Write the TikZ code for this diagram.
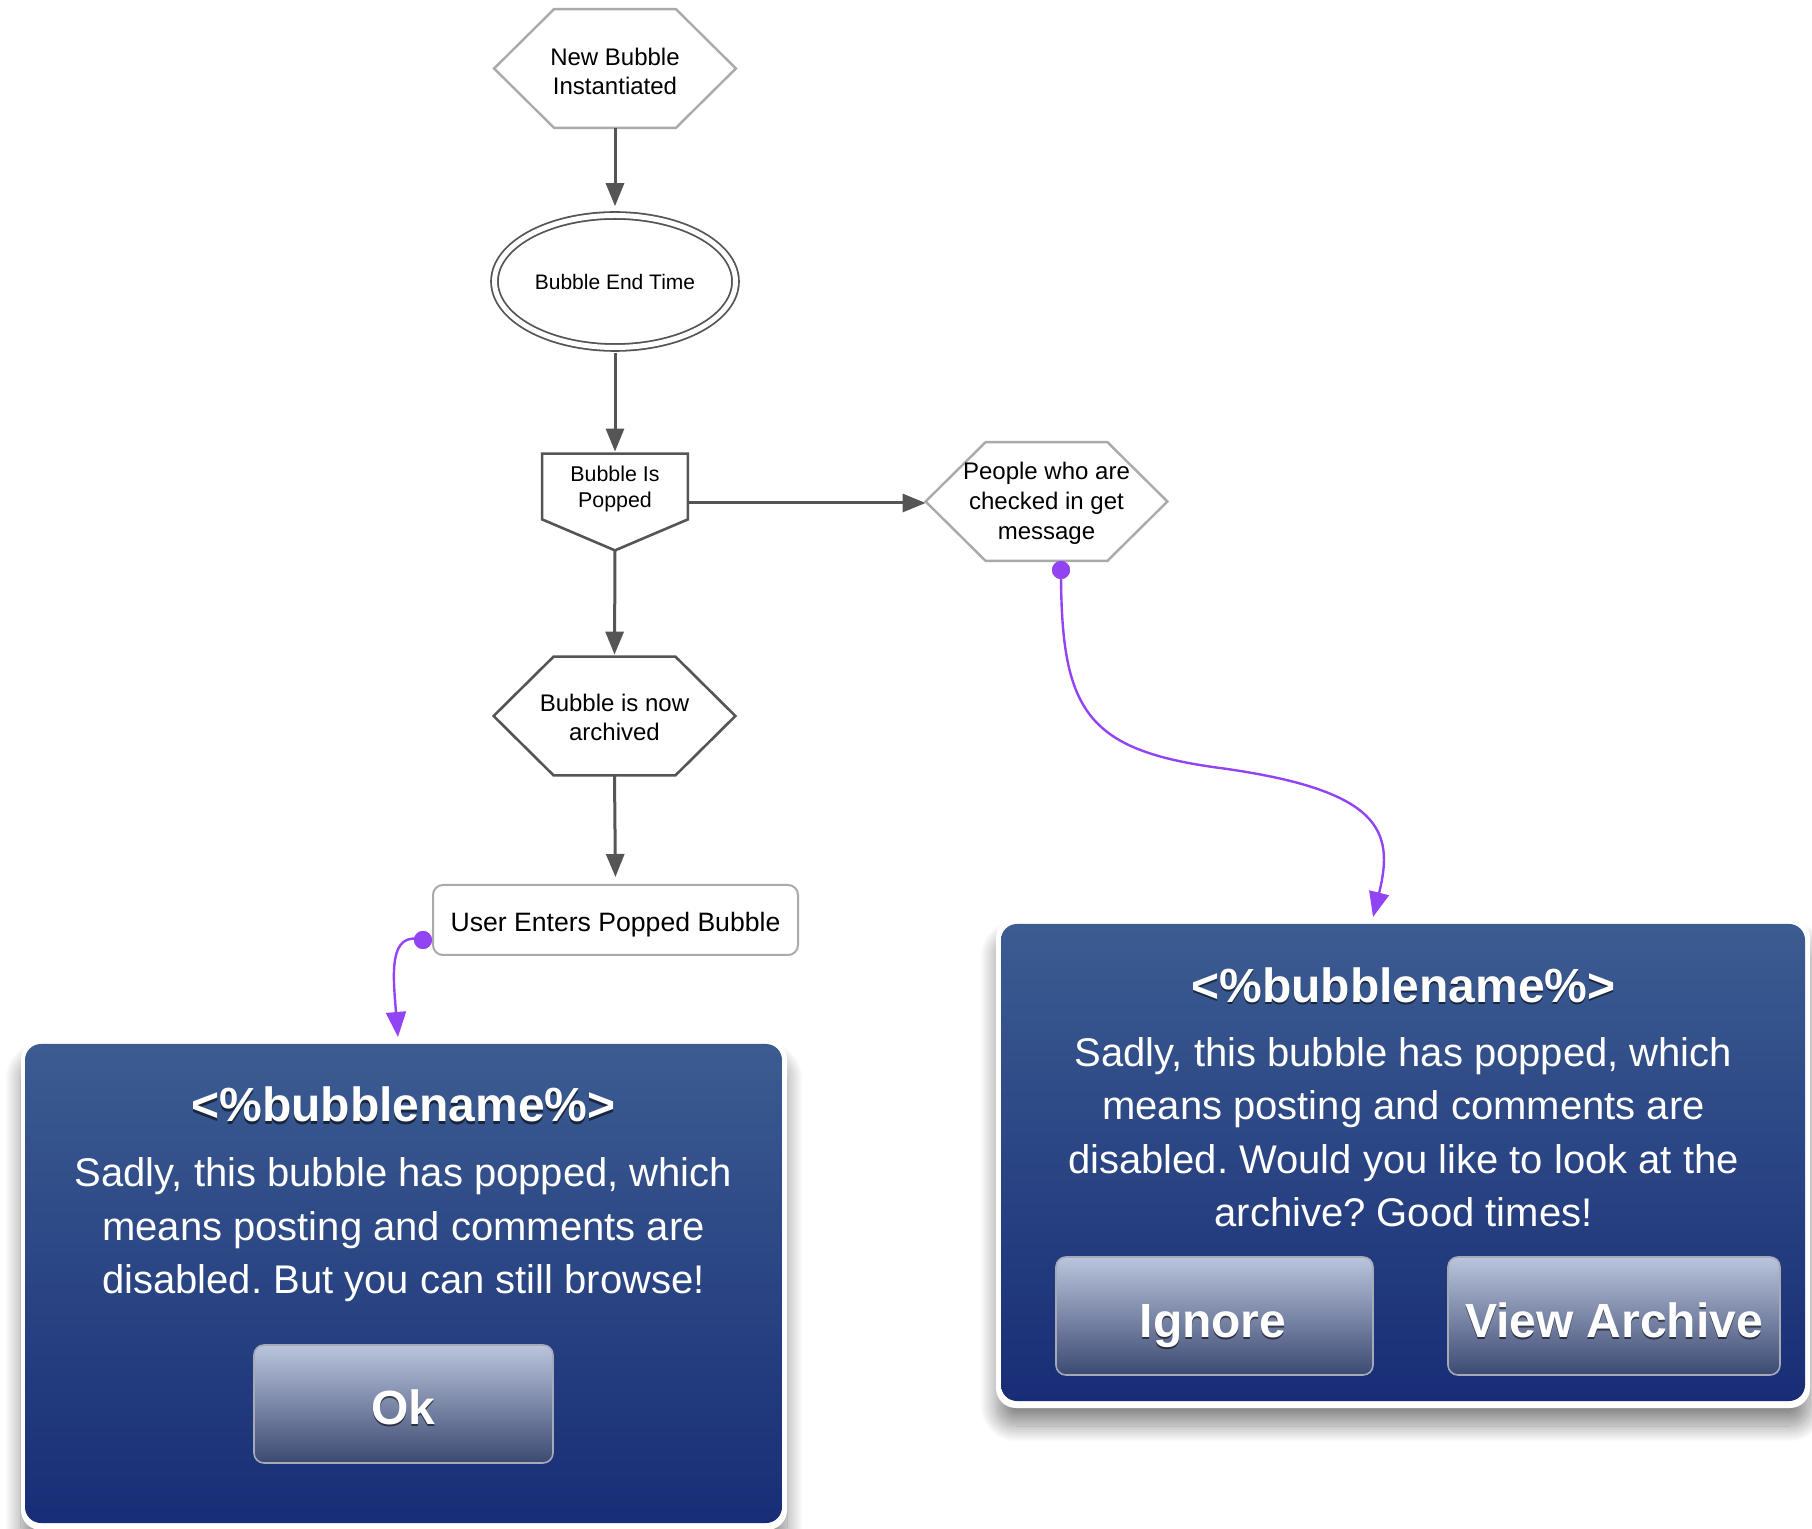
\documentclass[tikz,border=0pt]{standalone}
\usepackage{fontspec}
\setmainfont{Liberation Sans}
\frenchspacing
\usetikzlibrary{arrows.meta,shapes.geometric,shadows.blur,calc}
\definecolor{edgegray}{RGB}{85,85,85}
\definecolor{lightedge}{RGB}{170,170,170}
\definecolor{purp}{RGB}{146,68,245}
\definecolor{bluetop}{RGB}{60,92,145}
\definecolor{bluebot}{RGB}{24,45,118}
\definecolor{btntop}{RGB}{186,196,220}
\definecolor{btnbot}{RGB}{60,74,114}
\definecolor{btnedge}{RGB}{165,170,185}
\newcommand\drawhex[2]{\draw[#2] (#1.west) -- ([xshift=30pt]#1.north west) -- ([xshift=-30pt]#1.north east) -- (#1.east) -- ([xshift=-30pt]#1.south east) -- ([xshift=30pt]#1.south west) -- cycle;}
\begin{document}
\begin{tikzpicture}[x=0.5pt,y=-0.5pt]
\useasboundingbox (0,0) rectangle (1812,1529);
\tikzset{
 flowarrow/.style={draw=edgegray, line width=1.5pt, -{Triangle[length=11.5pt,width=9pt]}},
 purparrow/.style={draw=purp, line width=1.2pt, -{Triangle[length=12.5pt,width=10pt]}},
 hexlight/.style={draw=lightedge, line width=1.2pt},
 hexdark/.style={draw=edgegray, line width=1.3pt},
 hexbox/.style={inner sep=0pt, minimum width=120.5pt, minimum height=59pt},
 flowtext/.style={align=center, inner sep=0pt, font=\fontsize{12}{14.5}\selectfont},
 dotnode/.style={circle, fill=purp, inner sep=0pt, minimum size=9pt},
 dlgframe/.style={fill=white, rounded corners=10pt, inner sep=0pt, blur shadow={shadow xshift=0pt, shadow yshift=-9pt, shadow blur radius=8pt, shadow blur steps=20, shadow opacity=45}},
 dlgpanel/.style={rounded corners=8pt, inner sep=0pt, top color=bluetop, bottom color=bluebot},
 btn/.style={draw=btnedge, line width=0.8pt, rounded corners=5pt, inner sep=0pt, top color=btntop, bottom color=btnbot},
 titletext/.style={font=\bfseries\fontsize{24}{28}\selectfont, text=white, anchor=base},
 titleshadow/.style={font=\bfseries\fontsize{24}{28}\selectfont, text=black, text opacity=0.55, anchor=base},
 bodytext/.style={font=\fontsize{20}{26.75}\selectfont, text=white, align=center},
}
% ---------- flow nodes ----------
\node[hexbox] (new) at (615,68.5) {};
\drawhex{new}{hexlight}
\node[flowtext] (newT) at (615,71) {New Bubble\\Instantiated};
\node[ellipse, draw=edgegray, double=white, double distance=2.5pt, line width=0.9pt,
      inner sep=0pt, minimum width=120.5pt, minimum height=66pt] (end) at (615,281.5) {};
\node[inner sep=0pt, font=\fontsize{10.5}{13}\selectfont] (endT) at (615,282.5) {Bubble End Time};
\node[inner sep=0pt, minimum width=72.5pt, minimum height=32.5pt] (pop) at (615,486.5) {};
\coordinate (popTip) at ([yshift=-15.5pt]pop.south);
\draw[hexdark] (pop.north west) -- (pop.north east) -- (pop.south east) -- (popTip) -- (pop.south west) -- cycle;
\node[flowtext, font=\fontsize{10.7}{13}\selectfont] (popT) at (615,489) {Bubble Is\\Popped};
\node[hexbox, minimum height=59pt] (peo) at (1046.5,501.5) {};
\drawhex{peo}{hexlight}
\node[flowtext, font=\fontsize{12}{15}\selectfont] (peoT) at (1046.5,503.5) {People who are\\checked in get\\message};
\node[hexbox] (arch) at (614.5,716) {};
\drawhex{arch}{hexdark}
\node[flowtext] (archT) at (614.5,717.5) {Bubble is now\\archived};
\node[draw=lightedge, line width=1pt, rounded corners=5pt, inner sep=0pt,
      minimum width=182.5pt, minimum height=35pt] (user) at (615.5,920) {};
\node[inner sep=0pt, font=\fontsize{13.3}{16}\selectfont] (userT) at (615.5,924.5) {User Enters Popped Bubble};
% ---------- flow arrows ----------
\coordinate (hArrow) at (pop.east |- 0,503);
\draw[flowarrow, shorten >=4.2pt] (new.south) -- (end.north);
\draw[flowarrow, shorten <=2.3pt, shorten >=1pt] (end.south) -- (pop.north);
\draw[flowarrow, shorten >=1pt] (popTip) -- (arch.north);
\draw[flowarrow, shorten >=3.5pt] (arch.south) -- (user.north);
\draw[flowarrow] (hArrow) -- (hArrow -| peo.west);
% ---------- dialogs ----------
\node[dlgframe, minimum width=383pt, minimum height=245pt] (frameL) at (404,1285) {};
\node[dlgpanel, minimum width=378.5pt, minimum height=239.5pt] (panelL) at (403.5,1283.5) {};
\node[dlgframe, minimum width=407pt, minimum height=245pt] (frameR) at (1403,1163) {};
\node[dlgpanel, minimum width=402pt, minimum height=238.5pt] (panelR) at (1403,1162.5) {};
% left dialog content
\node[titleshadow] (titleLs) at (403.5,1124.5) {<\%bubblename\%>};
\node[titletext] (titleL) at (403.5,1122) {<\%bubblename\%>};
\node[bodytext] (bodyL) at (403.5,1230) {Sadly, this bubble has popped, which\\means posting and comments are\\disabled. But you can still browse!};
\node[btn, minimum width=149.5pt, minimum height=59pt] (okB) at (403.5,1404) {};
\node[titleshadow] (okTs) at (403.5,1426.5) {Ok};
\node[titletext] (okT) at (403.5,1424) {Ok};
% right dialog content
\node[titleshadow] (titleRs) at (1403.5,1004.5) {<\%bubblename\%>};
\node[titletext] (titleR) at (1403.5,1002) {<\%bubblename\%>};
\node[bodytext] (bodyR) at (1403.5,1132) {Sadly, this bubble has popped, which\\means posting and comments are\\disabled. Would you like to look at the\\archive? Good times!};
\node[btn, minimum width=158.5pt, minimum height=59pt] (ignB) at (1214.5,1316) {};
\node[btn, minimum width=166pt, minimum height=59pt] (viewB) at (1614,1316) {};
\node[titleshadow] (ignTs) at (1213,1339.5) {Ignore};
\node[titletext] (ignT) at (1213,1337) {Ignore};
\node[titleshadow] (viewTs) at (1614,1339.5) {View Archive};
\node[titletext] (viewT) at (1614,1337) {View Archive};
% ---------- purple connectors ----------
\node[dotnode] (dotR) at (1061,570) {};
\node[dotnode] (dotL) at (423,940) {};
\coordinate (midR) at (1220,768);
\coordinate (tipR) at (1373,917);
\coordinate (tipL) at (398,1037);
\draw[purparrow] (dotR.center) .. controls (1061,710) and (1085,750) .. (midR)
                 .. controls (1380,790) and (1395,830) .. (tipR);
\draw[purparrow] (dotL.center) .. controls (388,930) and (393,975) .. (tipL);
\node[dotnode] (dotR2) at (dotR) {};
\node[dotnode] (dotL2) at (dotL) {};
\end{tikzpicture}
\end{document}
